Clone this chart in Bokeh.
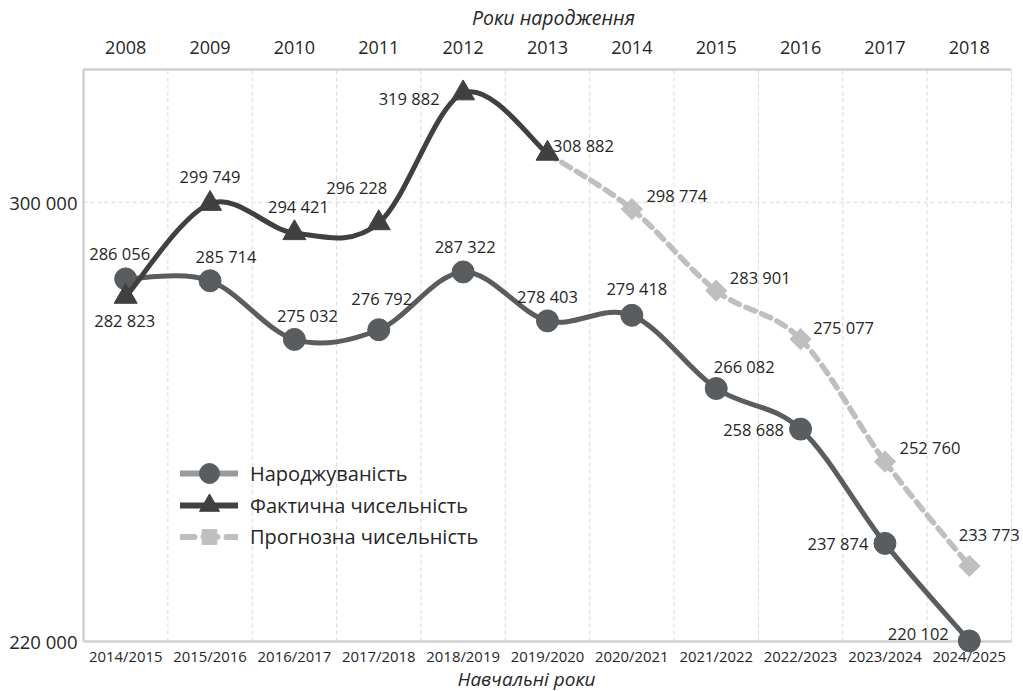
import math
from bokeh.plotting import figure
from bokeh.models import (ColumnDataSource, FixedTicker, LinearAxis, Range1d,
                          Legend, LegendItem, LabelSet, Label)
from bokeh.core.properties import value
from bokeh.embed import file_html
from bokeh.resources import INLINE

# ---------------- data ----------------
school_years = ["2014/2015", "2015/2016", "2016/2017", "2017/2018", "2018/2019",
                "2019/2020", "2020/2021", "2021/2022", "2022/2023", "2023/2024", "2024/2025"]
birth_years = ["2008", "2009", "2010", "2011", "2012", "2013",
               "2014", "2015", "2016", "2017", "2018"]
births = [286056, 285714, 275032, 276792, 287322, 278403,
          279418, 266082, 258688, 237874, 220102]
actual = [282823, 299749, 294421, 296228, 319882, 308882]
forecast = [308882, 298774, 283901, 275077, 252760, 233773]
FORECAST_START = 5  # forecast begins at the last actual year

Y_MIN, Y_MAX = 220000, 324200
Y_TICKS = [220000, 300000]

# ---------------- styles ----------------
FONT = "Open Sans"
TEXT = "#262626"
C_BIRTH = "#595d5f"
C_BIRTH_LEG = "#9a9a9a"
C_ACTUAL = "#404040"
C_FORE = "#bfbfbf"
GRID = "#d9d9d9"
AXIS = "#d0d0d0"

# label offsets in screen px (right, down)
births_off = [(-6, -25), (16, -24), (13, -24), (3, -31), (2, -25), (0, -24),
              (5, -27), (28, -22), (-47, 0), (-47, 0), (-51, -7)]
actual_off = [(-1, 24), (0, -27), (4, -26), (-22, -36), (-54, 5), (36, -8)]
fore_off = [(45, -14), (44, -13), (43, -12), (45, -14), (20, -31)]


def fmt(v):
    return f"{v:,}".replace(",", " ")


def smooth(xs, ys):
    """Bezier segments for a smoothed line through the points."""
    n = len(xs)
    d = dict(x0=[], y0=[], x1=[], y1=[], cx0=[], cy0=[], cx1=[], cy1=[])
    for i in range(n - 1):
        pm, pp = max(i - 1, 0), min(i + 2, n - 1)
        d["x0"].append(xs[i]); d["y0"].append(ys[i])
        d["x1"].append(xs[i + 1]); d["y1"].append(ys[i + 1])
        d["cx0"].append(xs[i] + (xs[i + 1] - xs[pm]) / 6)
        d["cy0"].append(ys[i] + (ys[i + 1] - ys[pm]) / 6)
        d["cx1"].append(xs[i + 1] - (xs[pp] - xs[i]) / 6)
        d["cy1"].append(ys[i + 1] - (ys[pp] - ys[i]) / 6)
    return ColumnDataSource(d)


n = len(school_years)
bx = list(range(n))
ax = list(range(len(actual)))
fx = list(range(FORECAST_START, FORECAST_START + len(forecast)))

CAT_PX = 928 / n           # pixel width of a category
EXTRA_R = 12               # room on the right for the last label
PAD_B = 50                 # room below Y_MIN for the bottom labels (inside the frame)
PLOT_H = 572
pad = PAD_B * (Y_MAX - Y_MIN) / PLOT_H

p = figure(frame_width=928 + EXTRA_R, frame_height=PLOT_H + PAD_B,
           x_range=Range1d(-0.5, n - 0.5 + EXTRA_R / CAT_PX),
           y_range=Range1d(Y_MIN - pad, Y_MAX),
           x_axis_location=None,
           output_backend="svg", toolbar_location=None,
           min_border_left=83, min_border_right=0, min_border_top=69, min_border_bottom=0,
           background_fill_color="white", border_fill_color="white",
           outline_line_color=None)

p.xgrid.visible = False
p.ygrid.visible = False

x_lo, x_hi = -0.5, n - 0.5
# vertical dashed category separators
sep_x = [i + 0.5 for i in range(n)]
p.segment(x0=sep_x, x1=sep_x, y0=[Y_MIN] * n, y1=[Y_MAX] * n,
          line_color=GRID, line_width=1, line_dash="4 3")
# horizontal dashed grid at the upper tick
p.segment(x0=[x_lo], x1=[x_hi], y0=[Y_TICKS[1]], y1=[Y_TICKS[1]],
          line_color=GRID, line_width=1, line_dash="4 3")
# bottom axis line at Y_MIN
p.segment(x0=[x_lo], x1=[x_hi], y0=[Y_MIN], y1=[Y_MIN],
          line_color=AXIS, line_width=2.5)

# ---- bottom category labels, just under Y_MIN ----
p.add_layout(LabelSet(x="x", y="y", text="t",
                      source=ColumnDataSource(dict(x=bx, y=[Y_MIN] * n, t=school_years)),
                      y_offset=-14, text_align="center", text_baseline="middle",
                      text_font=value(FONT), text_font_size="14.9px", text_color=TEXT))
p.add_layout(Label(x=(n - 1) / 2, y=Y_MIN, x_offset=-21, y_offset=-37,
                   text="Навчальні роки", text_align="center", text_baseline="middle",
                   text_font=FONT, text_font_style="italic", text_font_size="19px",
                   text_color=TEXT))

# ---- top axis ----
top = LinearAxis(ticker=FixedTicker(ticks=bx),
                 major_label_overrides={i: s for i, s in enumerate(birth_years)},
                 axis_label="Роки народження", bounds=(x_lo, x_hi))
top.axis_line_color = AXIS
top.axis_line_width = 2.5
top.major_tick_line_color = None
top.minor_tick_line_color = None
top.major_label_standoff = 10
top.major_label_text_font = FONT
top.major_label_text_font_size = "18px"
top.major_label_text_color = TEXT
top.axis_label_text_font = FONT
top.axis_label_text_font_style = "italic"
top.axis_label_text_font_size = "19.5px"
top.axis_label_text_color = TEXT
top.axis_label_standoff = 7
p.add_layout(top, "above")

# ---- left axis ----
ya = p.yaxis[0]
ya.ticker = FixedTicker(ticks=Y_TICKS)
ya.major_label_overrides = {t: fmt(t) for t in Y_TICKS}
ya.bounds = (Y_MIN, Y_MAX)
ya.axis_line_color = AXIS
ya.axis_line_width = 2.5
ya.major_tick_line_color = None
ya.minor_tick_line_color = None
ya.major_label_standoff = 0
ya.major_label_text_font = FONT
ya.major_label_text_font_size = "18.5px"
ya.major_label_text_color = TEXT

# ---- forecast (dashed) ----
p.bezier(x0="x0", y0="y0", x1="x1", y1="y1", cx0="cx0", cy0="cy0", cx1="cx1", cy1="cy1",
         source=smooth(fx, forecast), line_color=C_FORE, line_width=5.5,
         line_dash="10 7", line_cap="round")
fsrc = ColumnDataSource(dict(x=fx[1:], y=forecast[1:],
                             label=[fmt(v) for v in forecast[1:]],
                             dx=[o[0] for o in fore_off], dy=[-o[1] for o in fore_off]))
p.scatter(x="x", y="y", source=fsrc, marker="square", angle=math.pi / 4, size=15,
          fill_color=C_FORE, line_color=C_FORE)

# ---- births ----
p.bezier(x0="x0", y0="y0", x1="x1", y1="y1", cx0="cx0", cy0="cy0", cx1="cx1", cy1="cy1",
         source=smooth(bx, births), line_color=C_BIRTH, line_width=5, line_cap="round")
bsrc = ColumnDataSource(dict(x=bx, y=births, label=[fmt(v) for v in births],
                             dx=[o[0] for o in births_off], dy=[-o[1] for o in births_off]))
p.scatter(x="x", y="y", source=bsrc, marker="circle", size=22,
          fill_color=C_BIRTH, line_color=C_BIRTH)

# ---- actual ----
p.bezier(x0="x0", y0="y0", x1="x1", y1="y1", cx0="cx0", cy0="cy0", cx1="cx1", cy1="cy1",
         source=smooth(ax, actual), line_color=C_ACTUAL, line_width=5, line_cap="round")
asrc = ColumnDataSource(dict(x=ax, y=actual, label=[fmt(v) for v in actual],
                             dx=[o[0] for o in actual_off], dy=[-o[1] for o in actual_off]))
p.scatter(x="x", y="y", source=asrc, marker="triangle", size=23,
          fill_color=C_ACTUAL, line_color=C_ACTUAL)

# ---- data labels ----
for src in (bsrc, asrc, fsrc):
    p.add_layout(LabelSet(x="x", y="y", text="label", source=src,
                          x_offset="dx", y_offset="dy",
                          text_align="center", text_baseline="middle",
                          text_font=value(FONT), text_font_size="16.5px",
                          text_color=TEXT))

# ---- legend: one Legend per row so rows can sit close together ----
nan = float("nan")
l1 = p.line(x=[0], y=[nan], line_color=C_BIRTH_LEG, line_width=6, line_cap="round")
m1 = p.scatter(x=[0], y=[nan], marker="circle", fill_color=C_BIRTH, line_color=C_BIRTH)
l2 = p.line(x=[0], y=[nan], line_color=C_ACTUAL, line_width=6, line_cap="round")
m2 = p.scatter(x=[0], y=[nan], marker="triangle", fill_color=C_ACTUAL, line_color=C_ACTUAL)
l3 = p.line(x=[0], y=[nan], line_color=C_FORE, line_width=6, line_dash="14 9", line_cap="round")
m3 = p.scatter(x=[0], y=[nan], marker="square", angle=math.pi / 4,
               fill_color=C_FORE, line_color=C_FORE)

# legend location is measured from the frame bottom, which lies PAD_B below Y_MIN
rows = [("Народжуваність", [l1, m1], 50, 143),
        ("Фактична чисельність", [l2, m2], 50, 111),
        ("Прогнозна чисельність", [l3, m3], 37, 86)]
for label, rends, gh, ly in rows:
    lg = Legend(items=[LegendItem(label=label, renderers=rends)],
                location=(97, ly + PAD_B), glyph_width=58, glyph_height=gh,
                label_standoff=12, padding=0, margin=0,
                border_line_color=None, background_fill_alpha=0,
                label_text_font=FONT, label_text_font_size="20px",
                label_text_color=TEXT)
    p.add_layout(lg)

open("out.html", "w").write(file_html(p, INLINE))
